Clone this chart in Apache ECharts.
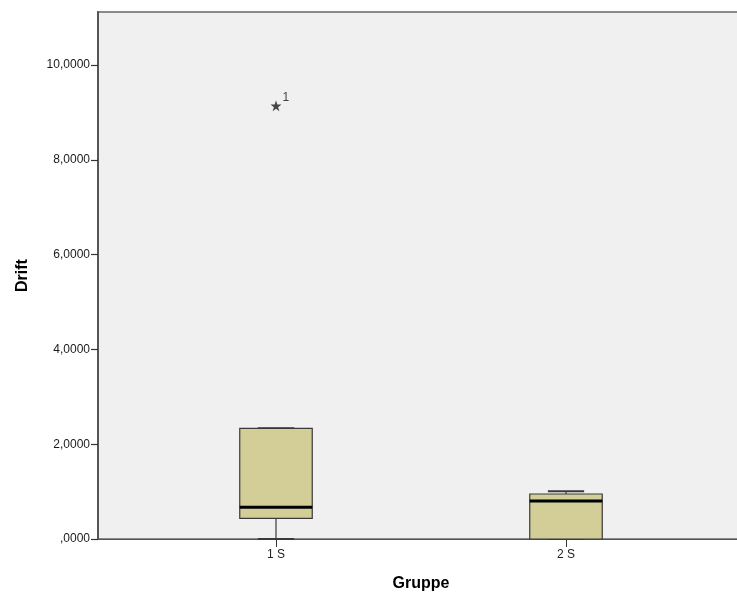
<!DOCTYPE html>
<html>
<head>
<meta charset="utf-8">
<script src="https://cdn.jsdelivr.net/npm/echarts@6/dist/echarts.min.js"></script>
<style>html,body{margin:0;padding:0;background:#fff}#c{width:737px;height:598px}</style>
</head>
<body>
<div id="c"></div>
<script>
// Data
var categories = ['1 S', '2 S'];
// [min, Q1, median, Q3, max]
var boxValues = [
  [0, 0.437, 0.669, 2.335, 2.335],
  [0, 0, 0.80, 0.949, 1.006]
];
var outliers = [[0, 9.14, '1']];
var yTicks = [0, 2, 4, 6, 8, 10];
var yMax = 11.12;

var chart = echarts.init(document.getElementById('c'));

function fmt(v) {
  if (v === 0) return ',0000';
  return v.toFixed(4).replace('.', ',');
}

var boxData = boxValues.map(function (b, i) { return [i].concat(b); });
var FONT = 'Liberation Sans, Arial, sans-serif';

var option = {
  animation: false,
  backgroundColor: '#ffffff',
  grid: [
    { left: 98, top: 12, width: 646, bottom: 59, show: true, backgroundColor: '#f0f0f0',
      borderColor: '#8a8a8a', borderWidth: 2, outerBoundsMode: 'none', containLabel: false },
    { left: 131, top: 12, width: 580, bottom: 59, outerBoundsMode: 'none', containLabel: false }
  ],
  xAxis: [
    { type: 'value', gridIndex: 0, min: 0, max: 1,
      axisLine: { show: true, onZero: false, lineStyle: { color: '#555555', width: 1.2 } },
      axisTick: { show: false }, axisLabel: { show: false }, splitLine: { show: false },
      name: 'Gruppe', nameLocation: 'middle', nameGap: 37,
      nameTextStyle: { fontFamily: FONT, fontWeight: 'bold', fontSize: 16, color: '#000' } },
    { type: 'category', gridIndex: 1, data: categories, boundaryGap: true,
      axisLine: { show: false },
      axisTick: { show: true, alignWithLabel: true, length: 8, lineStyle: { color: '#333', width: 1 } },
      axisLabel: { margin: 10, fontSize: 12, color: '#222', fontFamily: FONT },
      splitLine: { show: false } }
  ],
  yAxis: [
    { type: 'value', gridIndex: 0, min: 0, max: yMax, interval: 2,
      axisLine: { show: true, lineStyle: { color: '#555555', width: 2 } },
      axisTick: { show: true, length: 7, customValues: yTicks, lineStyle: { color: '#333', width: 1.2 } },
      axisLabel: { margin: 8, fontSize: 12, color: '#1a1a1a', customValues: yTicks, formatter: fmt, fontFamily: FONT },
      splitLine: { show: false },
      name: 'Drift', nameLocation: 'middle', nameGap: 67, nameRotate: 90,
      nameTextStyle: { fontFamily: FONT, fontWeight: 'bold', fontSize: 16, color: '#000' } },
    { type: 'value', gridIndex: 1, min: 0, max: yMax, show: false }
  ],
  series: [
    {
      type: 'custom',
      xAxisIndex: 1, yAxisIndex: 1,
      data: boxData,
      clip: false,
      renderItem: function (params, api) {
        var idx = api.value(0);
        var vmin = api.value(1), q1 = api.value(2), med = api.value(3), q3 = api.value(4), vmax = api.value(5);
        var band = api.size([1, 0])[0];
        var hw = band * 0.25 / 2;
        var cw = hw * 0.5;
        var pMin = api.coord([idx, vmin]);
        var pQ1 = api.coord([idx, q1]);
        var pMed = api.coord([idx, med]);
        var pQ3 = api.coord([idx, q3]);
        var pMax = api.coord([idx, vmax]);
        var x = pMed[0];
        var stroke = { stroke: '#3a3a3a', lineWidth: 1.2 };
        var children = [
          { type: 'line', shape: { x1: x, y1: pQ3[1], x2: x, y2: pMax[1] }, style: stroke },
          { type: 'line', shape: { x1: x, y1: pQ1[1], x2: x, y2: pMin[1] }, style: stroke },
          { type: 'line', shape: { x1: x - cw, y1: pMax[1], x2: x + cw, y2: pMax[1] }, style: { stroke: '#3a3a3a', lineWidth: 2 } },
          { type: 'line', shape: { x1: x - cw, y1: pMin[1], x2: x + cw, y2: pMin[1] }, style: { stroke: '#3a3a3a', lineWidth: 2 } },
          { type: 'rect', shape: { x: x - hw, y: pQ3[1], width: hw * 2, height: pQ1[1] - pQ3[1] },
            style: { fill: '#d3ce97', stroke: '#3a3a3a', lineWidth: 1.2 } },
          { type: 'line', shape: { x1: x - hw, y1: pMed[1], x2: x + hw, y2: pMed[1] }, style: { stroke: '#000', lineWidth: 3 } }
        ];
        return { type: 'group', children: children };
      }
    },
    {
      type: 'scatter',
      xAxisIndex: 1, yAxisIndex: 1,
      data: outliers.map(function (o) { return { value: [o[0], o[1]], name: o[2] }; }),
      symbol: 'path://M50,0 L61.8,35.3 L100,35.3 L69.1,57.1 L80.9,92.4 L50,70.6 L19.1,92.4 L30.9,57.1 L0,35.3 L38.2,35.3 Z',
      symbolSize: 11,
      itemStyle: { color: '#1a1a1a' },
      label: { show: true, formatter: '{b}', position: [12, -9], fontSize: 12, color: '#111',
        fontFamily: FONT, align: 'left', verticalAlign: 'top' }
    }
  ]
};
chart.setOption(option);
</script>
</body>
</html>
